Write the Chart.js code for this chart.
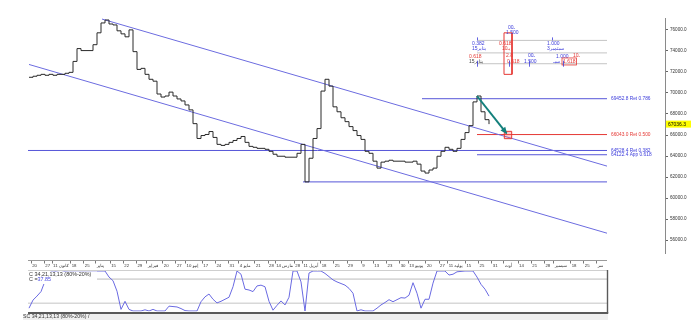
<!DOCTYPE html>
<html><head><meta charset="utf-8">
<script src="https://cdn.jsdelivr.net/npm/chart.js@4"></script>
<style>
html,body{margin:0;padding:0;background:#fff;width:692px;height:331px;overflow:hidden}
#wrapMain{position:absolute;left:0;top:0;width:692px;height:260px}
#wrapOsc{position:absolute;left:0;top:258px;width:692px;height:73px}
canvas{display:block}
</style></head><body>
<div id="wrapMain"><canvas id="main"></canvas></div>
<div id="wrapOsc"><canvas id="osc"></canvas></div>
<script>
// ---------------- DATA ----------------
const priceValues = [
 71490,71590,71680,71770,71680,71770,71680,71770,71770,71870,
 71960,73000,74220,74030,74030,74030,74590,75720,76660,76940,
 76560,76470,75910,75620,75340,76000,73930,72240,72340,71770,
 71300,71120,69900,69610,69710,70080,69710,69430,69240,68860,
 68390,67080,65670,65950,66050,66330,65770,65110,65010,65110,
 65300,65480,65670,65860,65300,64920,64830,64730,64730,64640,
 64450,64170,63980,63980,63890,63890,63890,64260,65110,61540,
 63790,65670,66610,70180,71300,70650,68680,68210,67640,67270,
 66800,66420,65950,65580,64450,64260,63510,62850,63420,63510,
 63600,63510,63510,63510,63420,63420,63510,63230,62570,62380,
 62670,62850,63980,64450,64830,64640,64450,64730,65580,66230,
 66890,69150,69710,68210,67460,67036.3];

const stochValues = [
 8,28,38,49,75,95,100,98,96,99,
 100,100,100,100,100,100,100,100,100,100,
 85,76,50,5,25,5,1,1,1,4,
 1,5,1,1,1,13,12,11,7,2,
 1,1,1,24,36,43,30,21,25,30,
 35,61,100,92,55,53,49,63,65,61,
 25,3,15,26,16,35,100,100,73,1,
 95,100,100,100,94,86,78,73,69,65,
 57,45,1,4,1,1,1,8,16,22,
 29,24,29,34,33,40,71,45,8,30,
 30,70,100,100,100,90,92,98,99,100,
 100,100,85,67,55,37.85];

const dateLabels = ["20","27","11 كانون","18","25","يناير","15","22","29","فبراير","20","27","10 إنيو","17","24","31","مايو 4","21","28","مارس 14","28","أبريل 11","18","25","29","9","13","23","30","يونيو 13","20","27","يوليه 11","15","25","31","أوت","14","21","28","سبتمبر","18","25","سر"];

const priceTicks = [56000,58000,60000,62000,64000,66000,68000,70000,72000,74000,76000];
const lastPrice = 67036.3;
const lastStoch = 37.85;
const stochBands = [20, 80];
const stochTitle = 'C 34,21,13,13 (80%-20%)';
const stochTab = 'SC 34,21,13,13 (80%-20%) /';

// drawing-tool anchors (bar index, price)
const drawEndBar = 144.5;
const channelUpperBars = [18.25, 144.5], channelUpperPrices = [77030, 63040];
const channelLowerBars = [0, 144.5],     channelLowerPrices = [72710, 56660];
const levelPrices    = [69452.8, 66043.0, 64528.4, 64122.4];
const levelStartBars = [98.25, 112, -0.25, 112];
const levelLabels    = ['69452.8 Ret 0.786','66043.0 Ret 0.500','64528.4 Ret 0.382','64122.4 App 0.618'];
const levelKinds     = ['b','r','b','b'];
const lowLinePrice = 61540, lowLineStartBar = 68.5;
const fibGridPrices = [75000, 73810, 72780], fibGridStartBar = 112;
const fibBoxBars = [118.75, 120.75], fibBoxPrices = [75720, 71770];
const arrowBars = [112, 119.4], arrowPrices = [69710, 66150];
const markerBar = 119.75, markerPrice = 66000;
const fibTextBars   = [119.75,119.25,110.75,110.75,117.5,118.25,129.5,129.5,110,119.25,124.75,131.75,136,110,119.5,123.75,131.0,133.5];
const fibTextPrices = [76190,75765,74685,74216,74685,74216,74685,74216,73465,73559,73559,73465,73559,72995,72995,72995,72995,72995];
const fibTextStrings= ["ـ00","1.500","0.382","يناير15","0.618","يـ10","1.000","سبتمبر3","0.618","2.8","ـ00","1.000","ـ10","يناير15","0.618","1.500","سبـ","1.618"];
const fibTextKinds  = ['b','b','b','b','r','r','b','b','r','r','b','b','r','k','r','b','b','r'];

// ---------------- STYLE ----------------
const FONT = '"Liberation Sans","DejaVu Sans",sans-serif';
const BLUE_LINE = '#6c6ce0', BLUE_LVL = '#5656d8', BLUE_TXT = '#3b3bdb', RED = '#e53935', TEAL = '#14807c';
const kindColor = k => k === 'r' ? RED : (k === 'k' ? '#444' : BLUE_TXT);
Chart.defaults.font.family = FONT;

const seg = (bars, prices) => bars.map((b, i) => ({x: b, y: prices[i]}));
const lineDs = (data, color, width) => ({data, borderColor: color, borderWidth: width || 1, pointRadius: 0, fill: false, xAxisID: 'x', yAxisID: 'y'});

const mainDatasets = [
  {data: [{x: markerBar, y: markerPrice}], showLine: false, pointStyle: 'rect', pointRadius: 5.2,
   pointBorderColor: RED, pointBackgroundColor: 'rgba(255,90,90,0.3)', pointBorderWidth: 1, xAxisID: 'x', yAxisID: 'y'},
  lineDs(seg(arrowBars, arrowPrices), TEAL, 2),
  Object.assign(lineDs(priceValues.map((v, i) => ({x: i, y: v})), '#2a2a2a', 1), {stepped: true}),
  lineDs(seg(channelUpperBars, channelUpperPrices), BLUE_LINE),
  lineDs(seg(channelLowerBars, channelLowerPrices), BLUE_LINE),
  lineDs(seg([lowLineStartBar, drawEndBar], [lowLinePrice, lowLinePrice]), BLUE_LVL),
  lineDs(seg([fibBoxBars[0], fibBoxBars[1], fibBoxBars[1], fibBoxBars[0], fibBoxBars[0]],
             [fibBoxPrices[0], fibBoxPrices[0], fibBoxPrices[1], fibBoxPrices[1], fibBoxPrices[0]]), RED)
];
levelPrices.forEach((p, k) => mainDatasets.push(lineDs(seg([levelStartBars[k], drawEndBar], [p, p]), levelKinds[k] === 'r' ? RED : BLUE_LVL)));
fibGridPrices.forEach(p => mainDatasets.push(lineDs(seg([fibGridStartBar, drawEndBar], [p, p]), '#c4c4c4')));

const mainOverlay = {
  id: 'mainOverlay',
  afterDatasetsDraw(chart) {
    const {ctx, chartArea: a, scales: {x, y}} = chart;
    ctx.save();
    // arrow head
    const x0 = x.getPixelForValue(arrowBars[0]), y0 = y.getPixelForValue(arrowPrices[0]);
    const x1 = x.getPixelForValue(arrowBars[1]), y1 = y.getPixelForValue(arrowPrices[1]);
    const ang = Math.atan2(y1 - y0, x1 - x0), L = 6, W = 3;
    ctx.fillStyle = TEAL;
    ctx.beginPath();
    ctx.moveTo(x1 + Math.cos(ang) * 1, y1 + Math.sin(ang) * 1);
    ctx.lineTo(x1 - Math.cos(ang) * L + Math.sin(ang) * W, y1 - Math.sin(ang) * L - Math.cos(ang) * W);
    ctx.lineTo(x1 - Math.cos(ang) * L - Math.sin(ang) * W, y1 - Math.sin(ang) * L + Math.cos(ang) * W);
    ctx.closePath(); ctx.fill();
    // level labels
    ctx.font = '4.8px ' + FONT; ctx.textBaseline = 'middle'; ctx.textAlign = 'left';
    const lx = x.getPixelForValue(drawEndBar) + 4;
    levelPrices.forEach((p, k) => {
      ctx.fillStyle = levelKinds[k] === 'r' ? RED : BLUE_TXT;
      ctx.fillText(levelLabels[k], lx, y.getPixelForValue(p));
    });
    // fib texts
    ctx.font = '5px ' + FONT;
    fibTextStrings.forEach((s, k) => {
      const px = x.getPixelForValue(fibTextBars[k]), py = y.getPixelForValue(fibTextPrices[k]);
      ctx.fillStyle = kindColor(fibTextKinds[k]);
      ctx.fillText(s, px, py);
      if (k === fibTextStrings.length - 1) {
        const w = ctx.measureText(s).width;
        ctx.strokeStyle = RED; ctx.lineWidth = 0.8;
        ctx.strokeRect(px - 1, py - 3.5, w + 2, 7);
      }
    });
    // anchor marks on fib grid
    ctx.strokeStyle = '#3b3bdb'; ctx.lineWidth = 0.8;
    [[112, 0], [130.75, 0], [112, 2], [120, 2], [125, 2], [133.5, 2]].forEach(([b, li]) => {
      const px = Math.round(x.getPixelForValue(b)) + 0.5, py = y.getPixelForValue(fibGridPrices[li]);
      ctx.beginPath(); ctx.moveTo(px, py - 3); ctx.lineTo(px, py + (li === 2 ? 3 : 0)); ctx.stroke();
    });
    // last price box
    const yp = y.getPixelForValue(lastPrice);
    ctx.fillStyle = '#ffff00';
    ctx.fillRect(a.right + 1, yp - 3.5, 25, 7);
    ctx.fillStyle = '#000'; ctx.font = '5px ' + FONT;
    ctx.fillText(lastPrice.toFixed(1), a.right + 3, yp + 0.3);
    ctx.restore();
  }
};

new Chart(document.getElementById('main'), {
  type: 'line',
  data: {datasets: mainDatasets},
  options: {
    responsive: true, maintainAspectRatio: false, animation: false,
    layout: {padding: {left: 28, top: 18, bottom: 3, right: 0}},
    plugins: {legend: {display: false}, tooltip: {enabled: false}},
    elements: {line: {tension: 0}, point: {radius: 0}},
    scales: {
      x: {type: 'linear', display: false, min: -0.25, max: 159},
      y: {type: 'linear', position: 'right', min: 54700, max: 77130,
        afterFit: s => { s.width = 27; },
        afterBuildTicks: s => { s.ticks = priceTicks.map(v => ({value: v})); },
        ticks: {font: {size: 4.6}, color: '#333', padding: 2, callback: v => Number(v).toFixed(1)},
        grid: {drawOnChartArea: false, tickLength: 3, color: '#666'},
        border: {display: true, color: '#8a8a8a'}
      }
    }
  },
  plugins: [mainOverlay]
});

// ---------------- OSCILLATOR ----------------
const oscOverlay = {
  id: 'oscOverlay',
  beforeDatasetsDraw(chart) {
    const {ctx, chartArea: a, scales: {y}} = chart;
    ctx.save();
    ctx.strokeStyle = '#d8d8d8'; ctx.lineWidth = 1.6;
    stochBands.forEach(v => {
      const py = y.getPixelForValue(v);
      ctx.beginPath(); ctx.moveTo(a.left, py); ctx.lineTo(a.right, py); ctx.stroke();
    });
    ctx.restore();
  },
  afterDatasetsDraw(chart) {
    const {ctx, chartArea: a} = chart;
    ctx.save();
    ctx.fillStyle = '#fff';
    ctx.fillRect(a.left - 2, a.top + 0.5, 71, 12.5);
    ctx.font = '5.4px ' + FONT; ctx.textBaseline = 'middle'; ctx.textAlign = 'left';
    ctx.fillStyle = '#333';
    ctx.fillText(stochTitle, a.left + 1, a.top + 4);
    ctx.fillText('C =', a.left + 1, a.top + 9);
    const w = ctx.measureText('C =').width;
    ctx.fillStyle = '#4848e0';
    ctx.fillText(lastStoch.toFixed(2), a.left + 1 + w, a.top + 9);
    ctx.restore();
  },
  afterDraw(chart) {
    const {ctx, chartArea: a, scales: {xd}} = chart;
    ctx.save();
    // date strip border + tick marks
    ctx.strokeStyle = '#9a9a9a'; ctx.lineWidth = 1;
    ctx.beginPath(); ctx.moveTo(a.left, 2.5); ctx.lineTo(a.right, 2.5); ctx.stroke();
    ctx.font = '4.3px ' + FONT;
    ctx.strokeStyle = '#555'; ctx.lineWidth = 0.8;
    dateLabels.forEach((lab, i) => {
      const px = Math.round(xd.getPixelForTick(i) - ctx.measureText(lab).width / 2 - 1.5) + 0.5;
      ctx.beginPath(); ctx.moveTo(px, 3); ctx.lineTo(px, 5.5); ctx.stroke();
    });
    // panel frame
    ctx.strokeStyle = '#cfcfcf'; ctx.lineWidth = 1;
    ctx.beginPath(); ctx.moveTo(a.left, a.top - 0.5); ctx.lineTo(a.right, a.top - 0.5); ctx.stroke();
    ctx.strokeStyle = '#5a5a5a'; ctx.lineWidth = 1.4;
    ctx.beginPath(); ctx.moveTo(a.right + 0.5, a.top - 1); ctx.lineTo(a.right + 0.5, a.bottom + 1.8); ctx.stroke();
    ctx.lineWidth = 2;
    ctx.beginPath(); ctx.moveTo(a.left, a.bottom + 1.5); ctx.lineTo(a.right + 1.2, a.bottom + 1.5); ctx.stroke();
    // tab bar
    ctx.fillStyle = '#efefef';
    ctx.fillRect(a.left - 5, a.bottom + 2.6, a.right - a.left + 6, 6);
    ctx.fillStyle = '#333'; ctx.font = '5.2px ' + FONT; ctx.textBaseline = 'middle';
    ctx.fillText(stochTab, a.left - 5, a.bottom + 5.6);
    ctx.restore();
  }
};

new Chart(document.getElementById('osc'), {
  type: 'line',
  data: {datasets: [{data: stochValues.map((v, i) => ({x: i, y: v})), borderColor: '#6a6ae2', borderWidth: 1,
    pointRadius: 0, fill: false, tension: 0, xAxisID: 'x', yAxisID: 'y'}]},
  options: {
    responsive: true, maintainAspectRatio: false, animation: false,
    layout: {padding: {left: 28, right: 85, top: 3, bottom: 19.6}},
    plugins: {legend: {display: false}, tooltip: {enabled: false}},
    scales: {
      x: {type: 'linear', display: false, min: -0.25, max: 144.5},
      xd: {type: 'category', labels: dateLabels, position: 'top', offset: true,
        afterFit: s => { s.height = 10; },
        grid: {display: false, drawTicks: false}, border: {display: false},
        ticks: {autoSkip: false, maxRotation: 0, minRotation: 0, font: {size: 4.3}, color: '#333', padding: 2.2}
      },
      y: {type: 'linear', display: false, min: 0, max: 100}
    }
  },
  plugins: [oscOverlay]
});
</script>
</body></html>
